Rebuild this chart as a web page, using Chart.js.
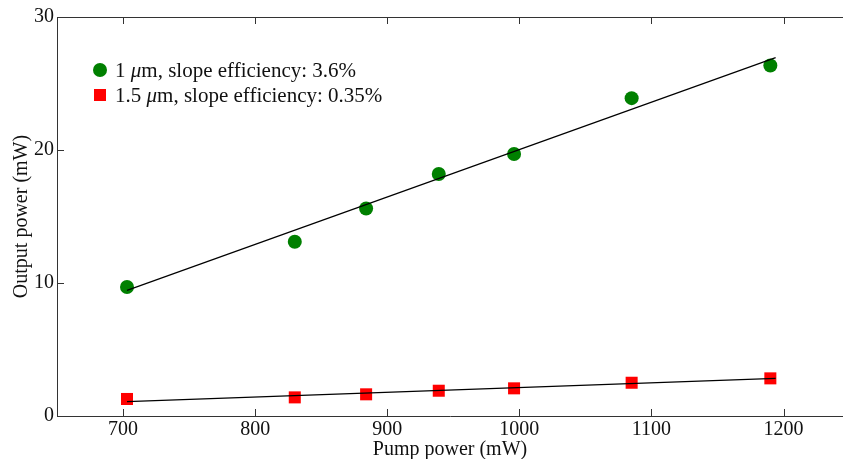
<!DOCTYPE html>
<html>
<head>
<meta charset="utf-8">
<script src="https://cdn.jsdelivr.net/npm/chart.js@4"></script>
<style>
  html, body { margin: 0; padding: 0; background: #fff; overflow: hidden; }
  #wrap { width: 843px; height: 459px; }
</style>
</head>
<body>
<div id="wrap"><canvas id="chart" width="843" height="459"></canvas></div>
<script>
// ── Data ──────────────────────────────────────────────────────────────────────
const pumpPower = [703, 830, 884, 939, 996, 1085, 1190];
const out1um = [9.7, 13.1, 15.6, 18.2, 19.7, 23.9, 26.35];
const out15um = [1.28, 1.40, 1.63, 1.90, 2.08, 2.50, 2.83];

// linear fits (end points of the drawn lines)
const fitX = [703, 1194];
const fit1um = [9.45, 26.95];
const fit15um = [1.08, 2.83];

const xTicks = [700, 800, 900, 1000, 1100, 1200];
const yTicks = [0, 10, 20, 30];

const label1um = "1 μm, slope efficiency: 3.6%";
const label15um = "1.5 μm, slope efficiency: 0.35%";

const FONT = "'Liberation Serif', 'Times New Roman', serif";
const AXIS = "#333";

const toPts = (xs, ys) => xs.map((x, i) => ({ x, y: ys[i] }));

// ── Plugin: inward ticks, top border, legend ────────────────────────────────
const decorations = {
    id: "decorations",
    afterDraw(chart) {
        const { ctx, chartArea: a, scales } = chart;
        ctx.save();
        ctx.strokeStyle = AXIS;
        ctx.lineWidth = 1;
        ctx.beginPath();
        ctx.moveTo(a.left, a.top + 0.5);
        ctx.lineTo(a.right, a.top + 0.5);
        for (const v of xTicks) {
            const px = Math.round(scales.x.getPixelForValue(v)) + 0.5;
            ctx.moveTo(px, a.bottom); ctx.lineTo(px, a.bottom - 7);
            ctx.moveTo(px, a.top); ctx.lineTo(px, a.top + 7);
        }
        for (const v of yTicks) {
            const py = Math.round(scales.y.getPixelForValue(v)) + 0.5;
            ctx.moveTo(a.left, py); ctx.lineTo(a.left + 7, py);
        }
        ctx.stroke();

        // legend
        const lx = 100, tx = 115;
        const rows = [
            { label: label1um, color: "#008000", shape: "circle", y: 70 },
            { label: label15um, color: "#ff0000", shape: "rect", y: 95 },
        ];
        ctx.textBaseline = "middle";
        for (const r of rows) {
            ctx.fillStyle = r.color;
            ctx.beginPath();
            if (r.shape === "circle") ctx.arc(lx, r.y, 7, 0, Math.PI * 2);
            else ctx.rect(lx - 6, r.y - 6, 12, 12);
            ctx.fill();

            // draw μ in italic like the original
            const [pre, post] = r.label.split("μ");
            ctx.fillStyle = "#111";
            ctx.font = `21px ${FONT}`;
            let x = tx;
            ctx.fillText(pre, x, r.y + 1);
            x += ctx.measureText(pre).width;
            ctx.font = `italic 21px ${FONT}`;
            ctx.fillText("μ", x, r.y + 1);
            x += ctx.measureText("μ").width;
            ctx.font = `21px ${FONT}`;
            ctx.fillText(post, x, r.y + 1);
        }
        ctx.restore();
    }
};

// ── Chart ─────────────────────────────────────────────────────────────────────
new Chart(document.getElementById("chart"), {
    type: "scatter",
    data: {
        datasets: [
            {
                label: label1um,
                data: toPts(pumpPower, out1um),
                pointStyle: "circle",
                pointRadius: 7,
                pointHoverRadius: 7,
                backgroundColor: "#008000",
                borderColor: "#008000",
                borderWidth: 0,
                order: 2,
            },
            {
                label: label15um,
                data: toPts(pumpPower, out15um),
                pointStyle: "rect",
                pointRadius: 8.5,
                pointHoverRadius: 8.5,
                backgroundColor: "#ff0000",
                borderColor: "#ff0000",
                borderWidth: 0,
                order: 2,
            },
            {
                label: "fit 1 μm",
                type: "line",
                data: toPts(fitX, fit1um),
                borderColor: "#000",
                borderWidth: 1.2,
                pointRadius: 0,
                fill: false,
                order: 1,
            },
            {
                label: "fit 1.5 μm",
                type: "line",
                data: toPts(fitX, fit15um),
                borderColor: "#000",
                borderWidth: 1.2,
                pointRadius: 0,
                fill: false,
                order: 1,
            },
        ]
    },
    options: {
        responsive: false,
        animation: false,
        layout: { autoPadding: false, padding: { top: 17, right: 0, left: 0, bottom: 0 } },
        plugins: {
            legend: { display: false },
            tooltip: { enabled: false },
        },
        scales: {
            x: {
                type: "linear",
                min: 650,
                max: 1245,
                afterBuildTicks: s => { s.ticks = xTicks.map(v => ({ value: v })); },
                afterFit: s => { s.height = 43; },
                ticks: {
                    color: "#111",
                    font: { family: FONT, size: 20 },
                    padding: 2,
                    callback: v => String(v),
                },
                grid: { drawOnChartArea: false, drawTicks: false },
                border: { display: true, color: AXIS, width: 1 },
                title: {
                    display: true,
                    text: "Pump power (mW)",
                    color: "#111",
                    font: { family: FONT, size: 20 },
                    padding: { top: 0, bottom: -3 },
                },
            },
            y: {
                type: "linear",
                min: 0,
                max: 30,
                afterBuildTicks: s => { s.ticks = yTicks.map(v => ({ value: v })); },
                afterFit: s => { s.width = 57; },
                ticks: {
                    color: "#111",
                    font: { family: FONT, size: 20 },
                    padding: 3,
                    callback: v => String(v),
                },
                grid: { drawOnChartArea: false, drawTicks: false },
                border: { display: true, color: AXIS, width: 1 },
                title: {
                    display: true,
                    text: "Output power (mW)",
                    color: "#111",
                    font: { family: FONT, size: 20 },
                    padding: { top: 10, bottom: 0 },
                },
            },
        },
    },
    plugins: [decorations],
});
</script>
</body>
</html>
